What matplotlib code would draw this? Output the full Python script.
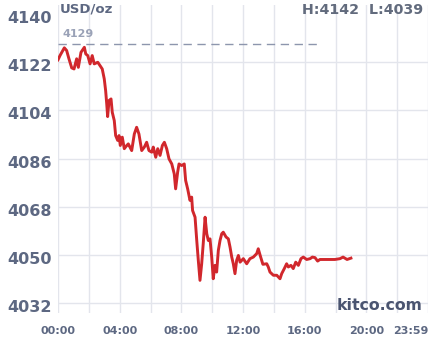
import matplotlib
matplotlib.use("Agg")
import matplotlib.pyplot as plt
import matplotlib.transforms as mtransforms

# ---- data (hours since 00:00, USD/oz) ----
hours = [0.00, 0.13, 0.41, 0.56, 0.71, 0.89, 1.04, 1.21, 1.32, 1.49, 1.71, 1.80, 1.93,
         2.08, 2.22, 2.35, 2.58, 2.72, 2.87, 3.00, 3.09, 3.16, 3.22, 3.31, 3.44, 3.52,
         3.65, 3.74, 3.87, 3.96, 4.04, 4.17, 4.30, 4.46, 4.56, 4.78, 4.95, 5.10, 5.25,
         5.43, 5.60, 5.75, 5.90, 6.08, 6.18, 6.34, 6.47, 6.62, 6.77, 6.90, 7.05, 7.20,
         7.38, 7.54, 7.63, 7.76, 7.85, 8.02, 8.19, 8.28, 8.41, 8.56, 8.67, 8.73, 8.89,
         9.00, 9.10, 9.21, 9.32, 9.42, 9.54, 9.65, 9.75, 9.86, 9.97, 10.07, 10.18, 10.29,
         10.40, 10.51, 10.62, 10.72, 10.90, 11.05, 11.16, 11.27, 11.37, 11.48, 11.59,
         11.70, 11.81, 12.02, 12.24, 12.45, 12.67, 12.89, 12.99, 13.13, 13.29, 13.54,
         13.64, 13.75, 13.97, 14.19, 14.40, 14.51, 14.68, 14.83, 14.94, 15.11, 15.26,
         15.42, 15.59, 15.76, 15.91, 16.13, 16.35, 16.50, 16.67, 16.84, 16.99, 17.96,
         18.29, 18.49, 18.75, 19.00]
prices = [4122.9, 4124.5, 4127.4, 4126.4, 4123.3, 4119.9, 4119.5, 4123.3, 4120.1, 4125.7,
          4127.6, 4125.1, 4124.5, 4121.4, 4124.5, 4121.4, 4122.0, 4120.8, 4119.5, 4115.8,
          4111.4, 4106.5, 4101.7, 4107.7, 4108.3, 4103.3, 4100.2, 4094.6, 4092.8, 4094.6,
          4090.9, 4094.0, 4089.7, 4090.9, 4091.5, 4089.0, 4095.2, 4097.7, 4095.2, 4089.0,
          4090.3, 4092.1, 4089.0, 4088.4, 4090.3, 4086.5, 4089.7, 4087.2, 4090.9, 4092.1,
          4089.7, 4085.9, 4084.0, 4080.3, 4074.7, 4080.9, 4084.0, 4083.4, 4084.0, 4077.8,
          4074.7, 4070.4, 4071.6, 4066.6, 4064.1, 4055.4, 4048.0, 4040.5, 4046.7, 4054.2,
          4064.1, 4057.9, 4055.4, 4056.0, 4049.2, 4041.1, 4046.1, 4043.6, 4051.7, 4055.4,
          4057.9, 4058.5, 4056.7, 4056.0, 4052.9, 4049.2, 4046.7, 4043.0, 4048.0, 4049.8,
          4047.3, 4048.6, 4046.7, 4048.6, 4049.2, 4050.5, 4052.3, 4049.5, 4046.5, 4046.7,
          4045.5, 4043.6, 4042.4, 4042.4, 4041.1, 4043.0, 4044.9, 4046.7, 4045.5, 4046.1,
          4044.9, 4047.3, 4046.1, 4048.6, 4049.2, 4048.3, 4048.6, 4049.2, 4049.0, 4047.7,
          4048.3, 4048.3, 4048.6, 4049.2, 4048.3, 4048.8]

prev_close = 4129
high_low_text = "H:4142  L:4039"
y_ticks = [4032, 4050, 4068, 4086, 4104, 4122, 4140]
x_ticks = [0, 4, 8, 12, 16, 20, 24]
x_tick_labels = ["00:00", "04:00", "08:00", "12:00", "16:00", "20:00", "23:59"]

label_color = "#5d6882"
grid_color = "#e3e5ec"
line_color = "#d1272c"

fig = plt.figure(figsize=(4.38, 3.37), dpi=100)
ax = fig.add_axes([58 / 438, 24 / 337, 370 / 438, 308 / 337])

ax.plot(hours, prices, color=line_color, lw=2.1, solid_joinstyle="round", zorder=3)
ax.axhline(prev_close, xmin=0, xmax=17 / 24, color="#8d96ad", lw=1.0,
           dashes=(6, 4), zorder=2)
ax.text(0.3, prev_close + 1.8, str(prev_close), color="#9aa2b7", fontsize=8,
        fontweight="bold", ha="left", va="bottom")

ax.set_xlim(0, 24)
ax.set_ylim(4028.3, 4143.4)
ax.set_yticks(y_ticks)
ax.set_xticks(x_ticks)
ax.set_xticklabels(x_tick_labels)
ax.set_xticks(list(range(2, 24, 4)), minor=True)

for s in ax.spines.values():
    s.set_visible(False)

ax.grid(True, which="both", color=grid_color, lw=1.0, zorder=0)
ax.tick_params(axis="both", which="both", length=0)
ax.tick_params(axis="y", labelsize=11.5, labelcolor=label_color, pad=4.5)
ax.tick_params(axis="x", labelsize=8, labelcolor=label_color, pad=9)
for lab in ax.get_yticklabels():
    lab.set_fontweight("bold")
    lab.set_transform(lab.get_transform() +
                      mtransforms.ScaledTranslation(0, -3 / 100, fig.dpi_scale_trans))
for lab in ax.get_xticklabels():
    lab.set_fontweight("bold")
ax.get_xticklabels()[-1].set_ha("right")
ax.yaxis.get_major_ticks()[-1].gridline.set_visible(False)

fig.text(60 / 438, 1 - 9 / 337, "USD/oz", color=label_color, fontsize=9.5,
         fontweight="bold", ha="left", va="center")
fig.text(423 / 438, 1 - 10 / 337, high_low_text, color="#626b7d", fontsize=10.3,
         fontweight="bold", ha="right", va="center")
fig.text(422 / 438, 1 - 306 / 337, "kitco.com", color="#4a5470", fontsize=11.3,
         fontweight="bold", ha="right", va="center")

fig.savefig("out.png", dpi=100)
